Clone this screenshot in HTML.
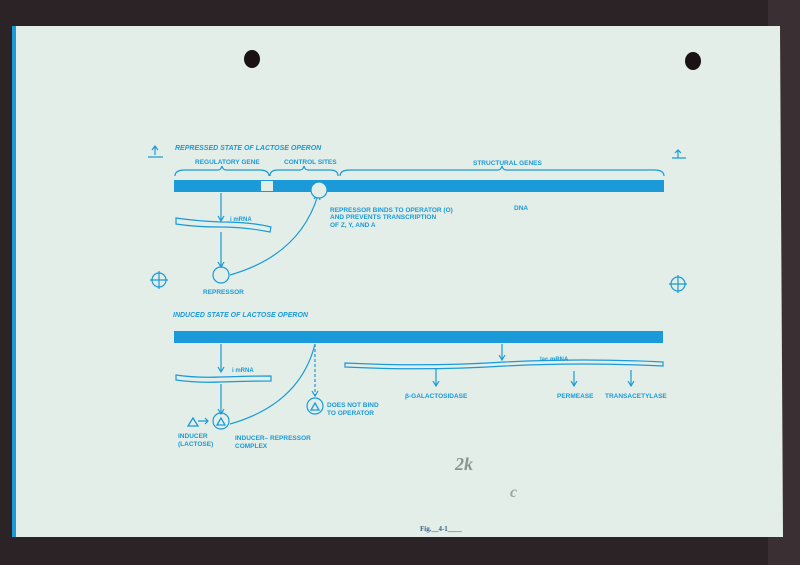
<!DOCTYPE html>
<html><head><meta charset="utf-8"><style>
html,body{margin:0;padding:0;background:#2b2326;}
svg{display:block}
text{font-family:"Liberation Sans",sans-serif;fill:#1a9ad8;font-weight:bold}
</style></head><body>
<svg width="800" height="565" viewBox="0 0 800 565" xmlns="http://www.w3.org/2000/svg">
<rect width="800" height="565" fill="#2b2326"/>
<rect x="768" y="0" width="32" height="565" fill="#3a2f33"/>
<polygon points="14,26 780,26 783,537 14,537" fill="#e3eee8"/>
<rect x="12" y="26" width="4" height="511" fill="#1a9ad8"/>
<ellipse cx="252" cy="59" rx="8" ry="9" fill="#1a1214"/>
<ellipse cx="693" cy="61" rx="8" ry="9" fill="#1a1214"/>
<g stroke="#1a9ad8" fill="none" stroke-width="1.2">
<!-- top -->
<path d="M155,147 v8 M152,150 l3,-4 l3,4 M148,157 h15"/>
<path d="M678,150 v8 M675,153 l3,-3 l3,3 M672,158 h14"/>
<circle cx="159" cy="280" r="7"/><path d="M150,280 h18 M159,271 v18"/>
<circle cx="678" cy="284" r="7"/><path d="M669,284 h18 M678,275 v18"/>
<path d="M175,176 q0,-6 10,-6 h33 q3,0 4,-4 q1,4 4,4 h33 q10,0 10,6"/>
<path d="M270,176 q0,-6 8,-6 h22 q3,0 4,-4 q1,4 4,4 h22 q8,0 8,6"/>
<path d="M340,176 q0,-6 10,-6 h148 q3,0 4,-4 q1,4 4,4 h148 q10,0 10,6"/>
<path d="M221,193 v28 M218,216 l3,5 l3,-5"/>
<path d="M176,218 q20,3 45,4 q30,0 50,5 l-1,5 q-25,-5 -50,-5 q-25,0 -44,-3 z"/>
<path d="M221,232 v34 M218,262 l3,5 l3,-5"/>
<circle cx="221" cy="275" r="8"/>
<path d="M230,275 q70,-20 88,-80 M314,199 l4,-5 l2,6"/>
<!-- bottom -->
<path d="M221,344 v28 M218,367 l3,5 l3,-5"/>
<path d="M176,375 q20,3 45,2 q30,-1 50,-1 v5 q-25,0 -50,1 q-25,1 -45,-2 z"/>
<path d="M221,384 v30 M218,409 l3,5 l3,-5"/>
<circle cx="221" cy="421" r="8"/>
<path d="M230,424 q70,-20 85,-80"/>
<path d="M315,344 v52" stroke-dasharray="3,2"/><path d="M312,391 l3,5 l3,-5"/>
<circle cx="315" cy="406" r="8"/>
<path d="M345,363 q80,4 160,-1 q80,-4 158,0 v4 q-80,-4 -158,0 q-80,5 -160,1 z"/>
<path d="M502,344 v15 M499,355 l3,5 l3,-5"/>
<path d="M436,368 v18 M433,381 l3,5 l3,-5"/>
<path d="M574,371 v15 M571,381 l3,5 l3,-5"/>
<path d="M631,370 v16 M628,381 l3,5 l3,-5"/>
<path d="M198,421 h10 M205,418 l3,3 l-3,3"/>
</g>
<g fill="none" stroke="#1a9ad8" stroke-width="1.3">
<path d="M188,426 l5,-8 l5,8 z"/><path d="M217,425 l4,-7 l4,7 z"/><path d="M311,410 l4,-7 l4,7 z"/>
</g>
<rect x="174" y="180" width="490" height="12" fill="#1a9ad8"/>
<rect x="261" y="181" width="12" height="10" fill="#e3eee8"/>
<circle cx="319" cy="190" r="8" fill="#e3eee8" stroke="#1a9ad8" stroke-width="1.2"/>
<rect x="174" y="331" width="489" height="12" fill="#1a9ad8"/>
<text x="175" y="150" font-size="7" font-style="italic">REPRESSED STATE OF LACTOSE OPERON</text>
<text x="195" y="164" font-size="6.5" font-weight="normal">REGULATORY GENE</text>
<text x="284" y="164" font-size="6.5" font-weight="normal">CONTROL SITES</text>
<text x="473" y="165" font-size="6.5" font-weight="normal">STRUCTURAL GENES</text>
<text x="514" y="210" font-size="6.5" font-weight="normal">DNA</text>
<text x="330" y="212" font-size="6.5" font-weight="normal">REPRESSOR BINDS TO OPERATOR (O)</text>
<text x="330" y="219" font-size="6.5" font-weight="normal">AND PREVENTS TRANSCRIPTION</text>
<text x="330" y="227" font-size="6.5" font-weight="normal">OF Z, Y, AND A</text>
<text x="230" y="221" font-size="6" font-weight="normal">i mRNA</text>
<text x="203" y="294" font-size="6.5" font-weight="normal">REPRESSOR</text>
<text x="173" y="317" font-size="7" font-style="italic">INDUCED STATE OF LACTOSE OPERON</text>
<text x="232" y="372" font-size="6" font-weight="normal">i mRNA</text>
<text x="540" y="361" font-size="6" font-weight="normal">lac mRNA</text>
<text x="405" y="398" font-size="6.5" font-weight="normal">β-GALACTOSIDASE</text>
<text x="557" y="398" font-size="6.5" font-weight="normal">PERMEASE</text>
<text x="605" y="398" font-size="6.5" font-weight="normal">TRANSACETYLASE</text>
<text x="327" y="407" font-size="6.5" font-weight="normal">DOES NOT BIND</text>
<text x="327" y="415" font-size="6.5" font-weight="normal">TO OPERATOR</text>
<text x="178" y="438" font-size="6.5" font-weight="normal">INDUCER</text>
<text x="178" y="446" font-size="6.5" font-weight="normal">(LACTOSE)</text>
<text x="235" y="440" font-size="6.5" font-weight="normal">INDUCER– REPRESSOR</text>
<text x="235" y="448" font-size="6.5" font-weight="normal">COMPLEX</text>
<text x="420" y="531" font-size="7" font-weight="normal" style="fill:#3a5f8a;font-family:'Liberation Serif',serif">Fig.__4-1____</text>
<text x="455" y="470" font-size="18" font-weight="normal" style="fill:#8a9590;font-family:'Liberation Serif',serif;font-style:italic">2k</text>
<text x="510" y="497" font-size="16" font-weight="normal" style="fill:#9aa5a0;font-family:'Liberation Serif',serif;font-style:italic">c</text>
</svg>
</body></html>
